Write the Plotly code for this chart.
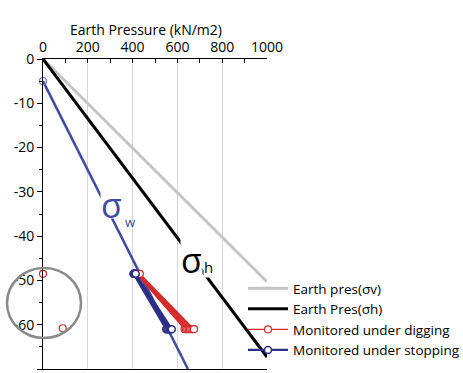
import plotly.graph_objects as go

# ---- data ----
sv_press = [0, 1000]
sv_depth = [0, -50.3]
sh_press = [0, 1000]
sh_depth = [0, -67.3]
sw_press = [0, 647]
sw_depth = [-5, -70]

dig_top_press = [418, 420, 422, 424, 426, 428, 430, 432]
dig_bot_press = [632, 638, 644, 650, 656, 662, 668, 674]
dig_top_depth = -48.5
dig_bot_depth = -61.0

stop_top_press = [404, 406, 408, 410, 412, 414]
stop_bot_press = [550, 555, 560, 565, 570, 575]
stop_top_depth = -48.5
stop_bot_depth = -61.0

odd_press = [0, -80, 88]
odd_depth = [-48.5, -60.8, -60.8]

x_ticks = [0, 200, 400, 600, 800, 1000]
y_ticks = [0, -10, -20, -30, -40, -50, -60, -70]

FONT = "Open Sans"
GRAY = "#c4c4c4"
RED = "#d42a2a"
NAVY = "#2c2f85"
BLUE = "#3f4aa0"

# plot area in pixels (for placing annotations)
PX0, PX1, PY0, PY1 = 43, 267, 59, 369


def px(x):
    return (x - PX0) / (PX1 - PX0)


def py(y):
    return (PY1 - y) / (PY1 - PY0)


fig = go.Figure()

fig.add_trace(go.Scatter(x=sw_press, y=sw_depth, mode="lines", line=dict(color=BLUE, width=2.5),
                         showlegend=False, hoverinfo="skip"))
fig.add_trace(go.Scatter(x=[sw_press[0]], y=[sw_depth[0]], mode="markers",
                         marker=dict(symbol="circle-open", size=7, color="#7a7fb0", line=dict(width=1.2)),
                         showlegend=False, cliponaxis=False))
fig.add_trace(go.Scatter(x=sv_press, y=sv_depth, mode="lines", line=dict(color=GRAY, width=3),
                         name="Earth pres(σv)", legendgroup="sv", legendrank=1))
fig.add_trace(go.Scatter(x=sh_press, y=sh_depth, mode="lines", line=dict(color="black", width=3),
                         name="Earth Pres(σh)", legendgroup="sh", legendrank=2))

for i, (a, b) in enumerate(zip(dig_top_press, dig_bot_press)):
    fig.add_trace(go.Scatter(x=[a, b], y=[dig_top_depth, dig_bot_depth], mode="lines+markers",
                             line=dict(color=RED, width=1.4),
                             marker=dict(symbol="circle", size=7, color="white", line=dict(color=RED, width=1.2)),
                             name="Monitored under digging", legendgroup="dig",
                             showlegend=(i == 0), legendrank=3))
for i, (a, b) in enumerate(zip(stop_top_press, stop_bot_press)):
    fig.add_trace(go.Scatter(x=[a, b], y=[stop_top_depth, stop_bot_depth], mode="lines+markers",
                             line=dict(color=NAVY, width=2.2),
                             marker=dict(symbol="circle", size=7, color="white", line=dict(color=NAVY, width=1.5)),
                             name="Monitored under stopping", legendgroup="stop",
                             showlegend=(i == 0), legendrank=4))
fig.add_trace(go.Scatter(x=odd_press, y=odd_depth, mode="markers",
                         marker=dict(symbol="circle-open", size=7, color=RED, line=dict(width=1.2)),
                         showlegend=False, cliponaxis=False))

# circle highlighting anomalies
fig.add_shape(type="circle", xref="paper", yref="paper", x0=px(7), x1=px(81), y0=py(338), y1=py(268),
              line=dict(color="#8a8a8a", width=2.5))

# sigma labels
fig.add_annotation(x=px(123), y=py(205), xref="paper", yref="paper", text="σ", showarrow=False,
                   xanchor="right", height=26, valign="middle",
                   font=dict(family=FONT, size=34, color=BLUE), bgcolor="white", borderpad=0)
fig.add_annotation(x=px(124), y=py(222), xref="paper", yref="paper", text="w", showarrow=False,
                   xanchor="left",
                   font=dict(family=FONT, size=13, color=BLUE), borderpad=0)
fig.add_annotation(x=px(203), y=py(260), xref="paper", yref="paper", text="σ", showarrow=False,
                   xanchor="right", height=46, valign="middle",
                   font=dict(family=FONT, size=34, color="black"), bgcolor="white", borderpad=0)
fig.add_annotation(x=px(203), y=py(278), xref="paper", yref="paper", text="h", showarrow=False,
                   xanchor="left",
                   font=dict(family=FONT, size=15, color="black"), bgcolor="white", borderpad=0)

# title
fig.add_annotation(x=px(224), y=py(18), xref="paper", yref="paper", text="Earth Pressure (kN/m2)",
                   showarrow=False, font=dict(family=FONT, size=14, color="black"))

fig.update_layout(
    width=463, height=373,
    margin=dict(l=43, r=196, t=59, b=4, autoexpand=False),
    paper_bgcolor="white", plot_bgcolor="white",
    font=dict(family=FONT, size=14, color="black"),
    showlegend=True,
    legend=dict(x=px(243), y=py(273), xanchor="left", yanchor="top", bgcolor="rgba(0,0,0,0)",
                font=dict(family=FONT, size=13.5, color="black"), tracegroupgap=0, itemwidth=40),
    xaxis=dict(side="top", range=[0, 1000], tickvals=x_ticks, ticktext=[str(v) for v in x_ticks],
               showgrid=True, gridcolor="#d6d6d6", gridwidth=1, zeroline=False,
               showline=True, linecolor="black", linewidth=1, mirror=True,
               ticks="inside", ticklen=4, tickcolor="black",
               minor=dict(dtick=100, ticks="inside", ticklen=4, tickcolor="black", showgrid=False),
               tickfont=dict(size=14), fixedrange=True),
    yaxis=dict(range=[-70, 0], tickvals=y_ticks, ticktext=[str(v) for v in y_ticks],
               showgrid=False, zeroline=False, showline=True, linecolor="black", linewidth=1,
               ticks="outside", ticklen=5, tickcolor="black",
               minor=dict(dtick=5, ticks="outside", ticklen=3, tickcolor="black"),
               tickfont=dict(size=14), fixedrange=True),
)

fig.write_html("out.html")
